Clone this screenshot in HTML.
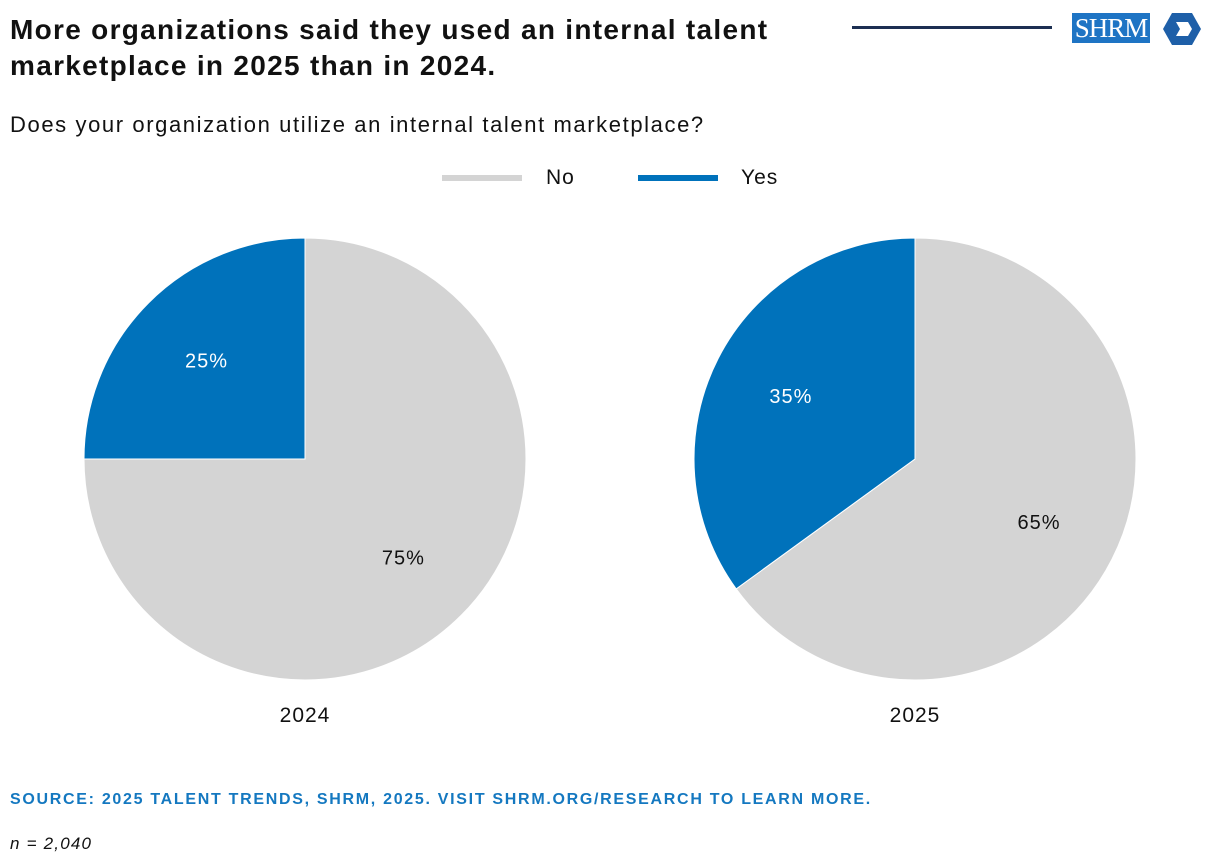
<!DOCTYPE html>
<html><head><meta charset="utf-8"><style>
body{margin:0;width:1220px;height:868px;background:#fff;font-family:"Liberation Sans",sans-serif;position:relative;overflow:hidden}
.t{position:absolute;left:10px;top:12px;font-size:28px;font-weight:bold;line-height:36px;color:#111;letter-spacing:1.3px}
.s{position:absolute;left:10px;top:112px;font-size:22px;color:#111;letter-spacing:1.6px}
.src{position:absolute;left:10px;top:791px;font-size:16px;font-weight:bold;color:#1478c0;letter-spacing:1.7px}
.n{position:absolute;left:10px;top:834px;font-size:17px;font-style:italic;color:#111;letter-spacing:1.2px}
</style></head><body>
<div class="t">More organizations said they used an internal talent<br>marketplace in 2025 than in 2024.</div>
<div class="s">Does your organization utilize an internal talent marketplace?</div>
<div style="position:absolute;left:852px;top:26px;width:200px;height:3px;background:#1c2f52"></div>
<div style="position:absolute;left:1072px;top:13px;width:78px;height:30px;background:#1e74c4;color:#fff;font-family:'Liberation Serif',serif;font-size:27px;line-height:30px;text-align:center;letter-spacing:-1px">SHRM</div>
<svg style="position:absolute;left:1162px;top:12px" width="40" height="34"><polygon points="10,1 30,1 39,17 30,33 10,33 1,17" fill="#1e5fa8"/><polygon points="14,10 26,10 30,17 26,24 14,24 18,17" fill="#fff"/></svg>
<svg id="c" width="1220" height="868" style="position:absolute;left:0;top:0"></svg>
<div class="src">SOURCE: 2025 TALENT TRENDS, SHRM, 2025. VISIT SHRM.ORG/RESEARCH TO LEARN MORE.</div>
<div class="n">n = 2,040</div>
<script>
const years=["2024","2025"];
const noVals=[75,65];
const yesVals=[25,35];
const centersX=[305,915];
const svg=document.getElementById('c');
const NS="http://www.w3.org/2000/svg";
function mk(tag,attrs){const e=document.createElementNS(NS,tag);for(const k in attrs)e.setAttribute(k,attrs[k]);svg.appendChild(e);return e;}
const cy=459,R=221;
function pt(cx,a,r){return [cx+r*Math.sin(a),cy-r*Math.cos(a)];}
function arc(cx,a0,a1,col){const p0=pt(cx,a0,R),p1=pt(cx,a1,R);const large=(a1-a0)>Math.PI?1:0;
return mk('path',{d:`M${cx},${cy}L${p0[0]},${p0[1]}A${R},${R} 0 ${large} 1 ${p1[0]},${p1[1]}Z`,fill:col,stroke:'#fff','stroke-width':1});}
function label(cx,a,txt,col){const p=pt(cx,a,R*0.63);const t=mk('text',{x:p[0],y:p[1]+7,'text-anchor':'middle','font-size':20,'letter-spacing':1,fill:col,'font-family':'Liberation Sans, sans-serif'});t.textContent=txt;return t;}
years.forEach((y,i)=>{
 const cx=centersX[i];const tot=noVals[i]+yesVals[i];
 const aNo=noVals[i]/tot*2*Math.PI;
 const s1=arc(cx,0,aNo,'#d4d4d4');
 
 
 const s2=arc(cx,aNo,2*Math.PI,'#0072bb');
 
 
 const l1=label(cx,aNo/2,noVals[i]+'%','#111');
 
 
 const l2=label(cx,(aNo+2*Math.PI)/2,yesVals[i]+'%','#fff');
 
 
 const yt=mk('text',{x:cx,y:722,'text-anchor':'middle','font-size':21,'letter-spacing':1,fill:'#111','font-family':'Liberation Sans, sans-serif'});
 yt.textContent=y;
 
 
});
const leg=[["No","#d4d4d4",442,546],["Yes","#0072bb",638,741]];
leg.forEach(l=>{
 const r=mk('rect',{x:l[2],y:175,width:80,height:6,fill:l[1]});
 
 
 const t=mk('text',{x:l[3],y:184,'font-size':21,'letter-spacing':1,fill:'#111','font-family':'Liberation Sans, sans-serif'});
 t.textContent=l[0];
 
 
});
</script>
</body></html>
